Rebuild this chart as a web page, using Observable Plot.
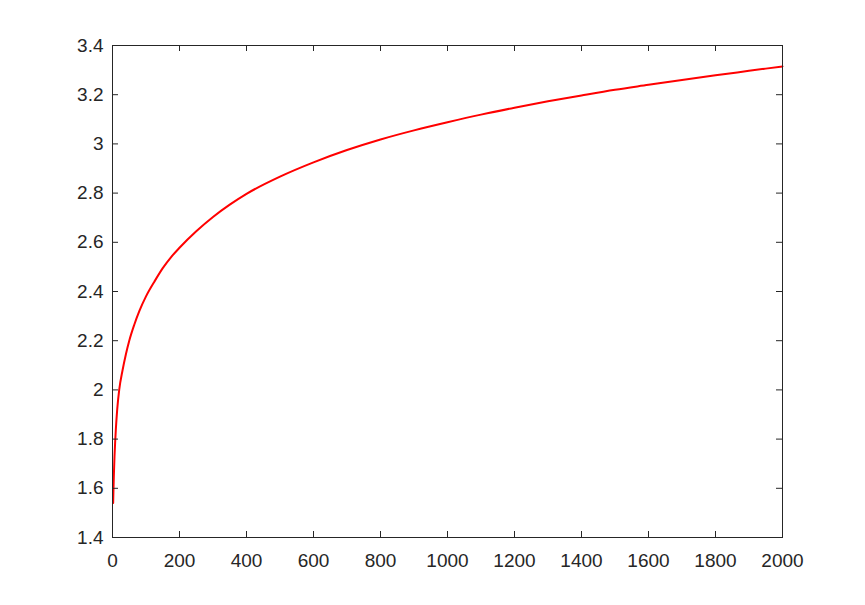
<!DOCTYPE html>
<html>
<head>
<meta charset="utf-8">
<script src="https://cdn.jsdelivr.net/npm/d3@7"></script>
<script src="https://cdn.jsdelivr.net/npm/@observablehq/plot@0.6"></script>
<style>
  html, body { margin: 0; padding: 0; background: #ffffff; }
  #chart { width: 865px; height: 605px; }
</style>
</head>
<body>
<div id="chart"></div>
<script>
// Values
const xValues = [2, 3, 4, 6, 8, 10, 14, 20, 30, 40, 50, 65, 80, 100, 125, 150, 175, 200, 250, 300, 350, 400, 500, 600, 700, 800, 900, 1000, 1100, 1200, 1300, 1400, 1500, 1600, 1700, 1800, 1900, 2000];
const yValues = [1.54, 1.60, 1.65, 1.73, 1.79, 1.84, 1.92, 2.00, 2.08, 2.145, 2.20, 2.265, 2.32, 2.38, 2.44, 2.495, 2.54, 2.578, 2.645, 2.703, 2.753, 2.797, 2.867, 2.925, 2.975, 3.018, 3.055, 3.088, 3.119, 3.147, 3.173, 3.197, 3.22, 3.24, 3.26, 3.279, 3.297, 3.315];

const xDomain = [0, 2000];
const yDomain = [1.4, 3.4];
const xTicks = [0, 200, 400, 600, 800, 1000, 1200, 1400, 1600, 1800, 2000];
const yTicks = [1.4, 1.6, 1.8, 2, 2.2, 2.4, 2.6, 2.8, 3, 3.2, 3.4];

const data = xValues.map((x, i) => ({x, y: yValues[i]}));

const axisColor = "#262626";
const tickLen = 6;

const chart = Plot.plot({
  width: 865,
  height: 605,
  marginLeft: 112,
  marginRight: 83,
  marginTop: 45,
  marginBottom: 68,
  style: {
    background: "#ffffff",
    color: axisColor,
    fontFamily: "'Liberation Sans', Arial, Helvetica, sans-serif",
    fontSize: "19px"
  },
  x: {domain: xDomain, ticks: xTicks, tickSize: 0, tickPadding: 16, label: null, tickFormat: d => String(d)},
  y: {domain: yDomain, ticks: yTicks, tickSize: 0, tickPadding: 9, label: null, tickFormat: d => String(d)},
  marks: [
    Plot.line(data, {x: "x", y: "y", stroke: "#ff0000", strokeWidth: 2, curve: "monotone-x"}),
    // inward ticks on all four sides
    Plot.ruleX(xTicks, {x: d => d, y1: yDomain[0], y2: yDomain[0], insetTop: -tickLen, stroke: axisColor}),
    Plot.ruleX(xTicks, {x: d => d, y1: yDomain[1], y2: yDomain[1], insetBottom: -tickLen, stroke: axisColor}),
    Plot.ruleY(yTicks, {y: d => d, x1: xDomain[0], x2: xDomain[0], insetRight: -tickLen, stroke: axisColor}),
    Plot.ruleY(yTicks, {y: d => d, x1: xDomain[1], x2: xDomain[1], insetLeft: -tickLen, stroke: axisColor}),
    Plot.frame({stroke: axisColor, strokeWidth: 1})
  ]
});

document.getElementById("chart").appendChild(chart);
</script>
</body>
</html>
